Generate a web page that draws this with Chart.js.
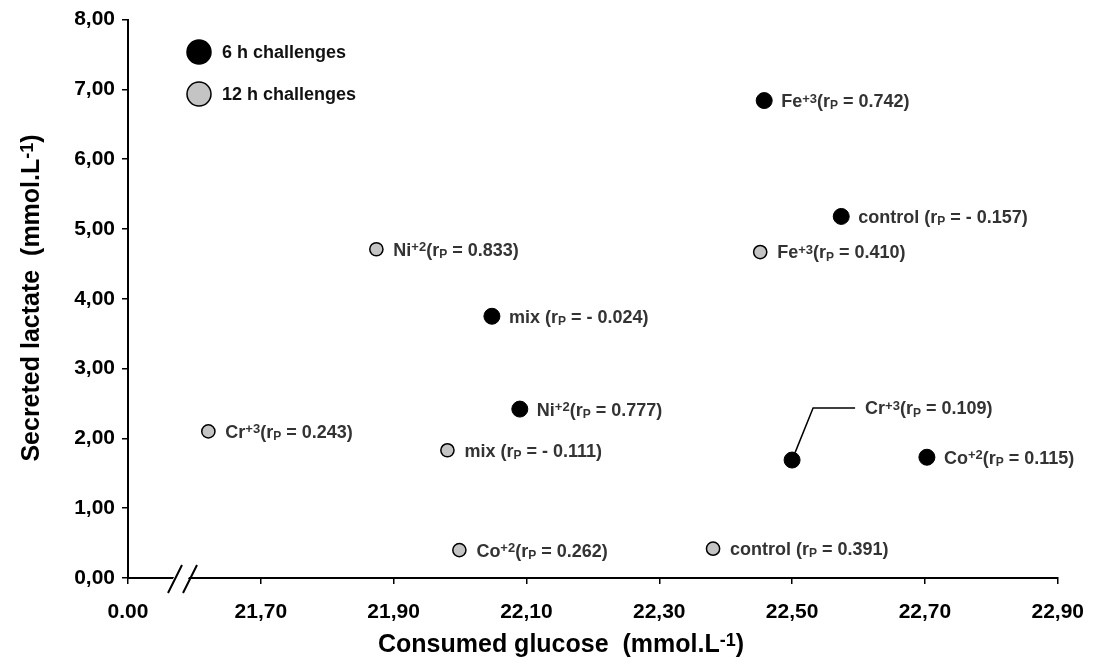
<!DOCTYPE html>
<html><head><meta charset="utf-8">
<script src="https://cdn.jsdelivr.net/npm/chart.js@4.4.0/dist/chart.umd.min.js"></script>
<style>html,body{margin:0;padding:0;background:#fff}#wrap{width:1100px;height:668px;position:relative}</style>
</head><body><div id="wrap"><canvas id="c"></canvas></div>
<script>
// ---- data ----
const seriesNames = ['6 h challenges', '12 h challenges'];
const sixHNames    = ['Fe', 'control', 'mix', 'Ni', 'Cr', 'Co'];
const sixHCharges  = ['+3', '', '', '+2', '+3', '+2'];
const sixHGlucose  = [22.458, 22.574, 22.048, 22.090, 22.500, 22.703];
const sixHLactate  = [6.84, 5.18, 3.75, 2.42, 1.69, 1.73];
const sixHR        = [0.742, -0.157, -0.024, 0.777, 0.109, 0.115];
const twelveHNames   = ['Ni', 'Fe', 'Cr', 'mix', 'Co', 'control'];
const twelveHCharges = ['+2', '+3', '+3', '', '+2', ''];
const twelveHGlucose = [21.874, 22.452, 21.621, 21.981, 21.999, 22.381];
const twelveHLactate = [4.71, 4.67, 2.10, 1.83, 0.40, 0.42];
const twelveHR       = [0.833, 0.410, 0.243, -0.111, 0.262, 0.391];
const xTickValues = [21.5, 21.7, 21.9, 22.1, 22.3, 22.5, 22.7, 22.9];
const xTickLabels = ['0.00', '21,70', '21,90', '22,10', '22,30', '22,50', '22,70', '22,90'];
const yTickValues = [0, 1, 2, 3, 4, 5, 6, 7, 8];
const yTickLabels = ['0,00', '1,00', '2,00', '3,00', '4,00', '5,00', '6,00', '7,00', '8,00'];
const xTitle = ['Consumed glucose  (mmol.L', '-1', ')'];
const yTitle = ['Secreted lactate  (mmol.L', '-1', ')'];

const FONT = '"Liberation Sans", Arial, Helvetica, sans-serif';

function pts(xs, ys) { return xs.map((x, i) => ({ x: x, y: ys[i] })); }
function fmtR(r) { return r < 0 ? '- ' + Math.abs(r).toFixed(3) : r.toFixed(3); }
function labelParts(name, charge, r) {
  const p = [{ t: name, k: 'n' }];
  if (charge) p.push({ t: charge, k: 'sup' }); else p.push({ t: ' ', k: 'n' });
  p.push({ t: '(r', k: 'n' });
  p.push({ t: 'P', k: 'sub' });
  p.push({ t: ' = ' + fmtR(r) + ')', k: 'n' });
  return p;
}
const labels6 = sixHNames.map((n, i) => labelParts(n, sixHCharges[i], sixHR[i]));
const labels12 = twelveHNames.map((n, i) => labelParts(n, twelveHCharges[i], twelveHR[i]));

const SUP = 0.72, SUB = 0.64;
function drawRich(ctx, x, y, parts, size, color) {
  ctx.save();
  ctx.fillStyle = color;
  ctx.textBaseline = 'alphabetic';
  ctx.textAlign = 'left';
  const base = y + size * 0.358;
  for (const p of parts) {
    let fs = size, dy = 0;
    if (p.k === 'sup') { fs = Math.round(size * SUP); dy = -size * 0.25; }
    if (p.k === 'sub') { fs = Math.round(size * SUB); dy = size * 0.12; }
    ctx.font = 'bold ' + fs + 'px ' + FONT;
    ctx.fillText(p.t, x, base + dy);
    x += ctx.measureText(p.t).width;
  }
  ctx.restore();
}
function richWidth(ctx, parts, size) {
  let w = 0;
  ctx.save();
  for (const p of parts) {
    let fs = size;
    if (p.k === 'sup') fs = Math.round(size * SUP);
    if (p.k === 'sub') fs = Math.round(size * SUB);
    ctx.font = 'bold ' + fs + 'px ' + FONT;
    w += ctx.measureText(p.t).width;
  }
  ctx.restore();
  return w;
}

const annotPlugin = {
  id: 'annot',
  afterDatasetsDraw(chart, args, opts) {
    const ctx = chart.ctx;
    const all = [labels6, labels12];
    chart.data.datasets.forEach((ds, di) => {
      const meta = chart.getDatasetMeta(di);
      meta.data.forEach((el, i) => {
        const parts = all[di][i];
        const co = (opts.callouts || []).find(c => c.ds === di && c.i === i);
        if (co) {
          const ex = el.x + co.elbowDx, ey = el.y + co.dy;
          const ang = Math.atan2(ey - el.y, ex - el.x);
          ctx.save();
          ctx.strokeStyle = '#000'; ctx.lineWidth = 1.5;
          ctx.beginPath();
          ctx.moveTo(el.x + Math.cos(ang) * 8, el.y + Math.sin(ang) * 8);
          ctx.lineTo(ex, ey);
          ctx.lineTo(el.x + co.lineDx, ey);
          ctx.stroke();
          ctx.restore();
          drawRich(ctx, el.x + co.dx, ey, parts, opts.size, opts.color);
        } else {
          drawRich(ctx, el.x + opts.dx, el.y, parts, opts.size, opts.color);
        }
      });
    });
  },
  afterDraw(chart, args, opts) {
    const ctx = chart.ctx;
    const ca = chart.chartArea;
    // axis break
    const yb = ca.bottom;
    ctx.save();
    ctx.fillStyle = '#fff';
    ctx.beginPath();
    ctx.moveTo(171, yb + 4); ctx.lineTo(176, yb - 4); ctx.lineTo(191, yb - 4); ctx.lineTo(186, yb + 4);
    ctx.closePath(); ctx.fill();
    ctx.strokeStyle = '#000'; ctx.lineWidth = 2;
    ctx.beginPath();
    ctx.moveTo(168, yb + 15); ctx.lineTo(182, yb - 13);
    ctx.moveTo(183, yb + 15); ctx.lineTo(197, yb - 13);
    ctx.stroke();
    ctx.restore();
    // axis titles
    const ts = opts.titleSize;
    const tparts = (a) => [{ t: a[0], k: 'n' }, { t: a[1], k: 'sup' }, { t: a[2], k: 'n' }];
    const xp = tparts(xTitle), yp = tparts(yTitle);
    const wx = richWidth(ctx, xp, ts);
    drawRich(ctx, opts.xTitleX - wx / 2, opts.xTitleY, xp, ts, '#000');
    const wy = richWidth(ctx, yp, ts);
    ctx.save();
    ctx.translate(opts.yTitleX, opts.yTitleY);
    ctx.rotate(-Math.PI / 2);
    drawRich(ctx, -wy / 2, 0, yp, ts, '#000');
    ctx.restore();
    // legend
    const lg = opts.legend;
    chart.data.datasets.forEach((ds, di) => {
      const cy = lg.y + di * lg.gap;
      ctx.save();
      ctx.beginPath();
      ctx.arc(lg.x, cy, lg.r, 0, Math.PI * 2);
      ctx.fillStyle = ds.backgroundColor; ctx.fill();
      ctx.lineWidth = 1.5; ctx.strokeStyle = '#000'; ctx.stroke();
      ctx.restore();
      drawRich(ctx, lg.x + lg.textDx, cy, [{ t: ds.label, k: 'n' }], lg.size, '#111');
    });
  }
};

const ctx = document.getElementById('c');
new Chart(ctx, {
  type: 'scatter',
  data: {
    datasets: [
      { label: seriesNames[0], data: pts(sixHGlucose, sixHLactate), backgroundColor: '#000', borderColor: '#000',
        pointRadius: 8, pointHoverRadius: 8, borderWidth: 1 },
      { label: seriesNames[1], data: pts(twelveHGlucose, twelveHLactate), backgroundColor: '#c4c4c4', borderColor: '#000',
        pointRadius: 6.6, pointHoverRadius: 6.6, borderWidth: 1.5 }
    ]
  },
  options: {
    responsive: true, maintainAspectRatio: false, animation: false,
    devicePixelRatio: 1,
    layout: { padding: { top: 19, right: 35, bottom: 0, left: 0 } },
    plugins: {
      legend: { display: false }, tooltip: { enabled: false },
      annot: {
        dx: 17, size: 18, color: '#333', titleSize: 25,
        callouts: [{ ds: 0, i: 4, elbowDx: 21, lineDx: 63, dx: 73, dy: -52 }],
        xTitleX: 561, xTitleY: 643, yTitleX: 30, yTitleY: 298,
        legend: { x: 199, y: 52, gap: 42, r: 12, textDx: 23, size: 18 }
      }
    },
    scales: {
      x: {
        type: 'linear', min: 21.5, max: 22.9,
        afterBuildTicks: (s) => { s.ticks = xTickValues.map(v => ({ value: v })); },
        afterFit: (s) => { s.height = 90; },
        ticks: { callback: (v, i) => xTickLabels[i], color: '#000', padding: 16, maxRotation: 0, autoSkip: false,
          font: { family: FONT, size: 21, weight: 'bold' } },
        grid: { display: true, drawOnChartArea: false, drawTicks: true, tickLength: 6, color: '#000', lineWidth: 1.5 },
        border: { display: true, color: '#000', width: 2 }
      },
      y: {
        type: 'linear', min: 0, max: 8,
        afterBuildTicks: (s) => { s.ticks = yTickValues.map(v => ({ value: v })); },
        afterFit: (s) => { s.width = 128; },
        ticks: { callback: (v, i) => yTickLabels[i], color: '#000', padding: 7, autoSkip: false,
          font: { family: FONT, size: 21, weight: 'bold' } },
        grid: { display: true, drawOnChartArea: false, drawTicks: true, tickLength: 6, color: '#000', lineWidth: 1.5 },
        border: { display: true, color: '#000', width: 2 }
      }
    }
  },
  plugins: [annotPlugin]
});
</script>
</body></html>
